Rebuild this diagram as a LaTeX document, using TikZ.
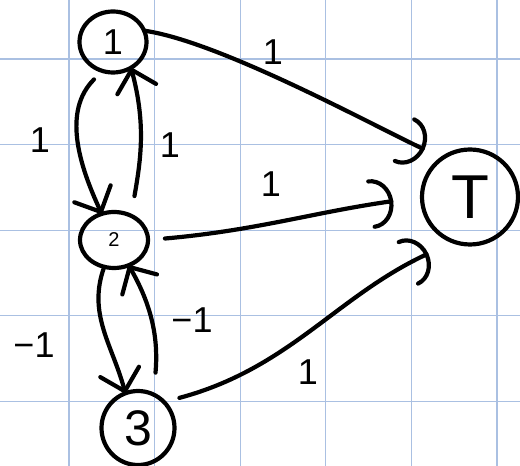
\documentclass[tikz,border=0pt]{standalone}
\usepackage{fontspec}
\setmainfont{Liberation Sans}
\usetikzlibrary{arrows.meta,shapes.geometric}
\definecolor{gridc}{RGB}{170,192,226}
\begin{document}
\begin{tikzpicture}[x=1pt,y=1pt,
  nd/.style={ellipse, draw, line width=4.2pt, inner sep=0pt, outer sep=0pt},
  lbl/.style={font=\fontsize{36}{36}\selectfont, inner sep=0pt},
  edge/.style={line width=4.2pt, line cap=round},
  vhead/.style={-{Straight Barb[length=20pt,width=40pt,round]}},
  thead/.style={-{Arc Barb[length=22pt,width=50pt,round]}},
  gridline/.style={gridc, line width=1.3pt}
]
\useasboundingbox (0,0) rectangle (520,466);
\fill[white] (0,0) rectangle (520,466);
\foreach \x in {69,154.6,240.2,325.8,411.4,497} \draw[gridline] (\x,0) -- (\x,466);
\foreach \y in {407,321.4,235.8,150.2,64.6} \draw[gridline] (0,\y) -- (520,\y);

\node[nd, minimum width=67pt, minimum height=61pt, font=\fontsize{36}{36}\selectfont] (n1) at (113,424) {1};
\node[nd, minimum width=68pt, minimum height=56pt, font=\fontsize{20}{20}\selectfont] (n2) at (114,226) {2};
\node[nd, minimum width=73pt, minimum height=74pt, font=\fontsize{50}{50}\selectfont] (n3) at (138,38) {3};
\node[nd, minimum width=96pt, minimum height=95pt, font=\fontsize{62}{62}\selectfont] (nT) at (470,269) {T};

\draw[edge, vhead, shorten <=12pt] (n1.250) to[out=225,in=115] (n2.115);
\draw[edge, vhead, shorten <=20pt] (n2.55) to[out=80,in=-75] (n1.305);
\draw[edge, vhead] (n2.250) to[out=250,in=105] (n3.110);
\draw[edge, vhead, shorten <=22pt] (n3.65) to[out=85,in=-60] (n2.300);

\draw[edge, thead, shorten >=20pt] (n1.20) to[out=-8,in=155,looseness=0.6] (nT.125);
\draw[edge, thead, shorten <=17pt, shorten >=29pt] (n2.east) to[out=5,in=188] (nT.west);
\draw[edge, thead, shorten <=16pt, shorten >=28pt] (n3.45) to[out=15,in=205] (nT.250);

\node[lbl] (l12) at (40,326) {1};
\node[lbl] (l21) at (170,321) {1};
\node[lbl] (l1T) at (273,414) {1};
\node[lbl] (l2T) at (271,282) {1};
\node[lbl] (l3T) at (308,94) {1};
\node[lbl] (l23) at (34,121) {−1};
\node[lbl] (l32) at (192,146) {−1};
\end{tikzpicture}
\end{document}
